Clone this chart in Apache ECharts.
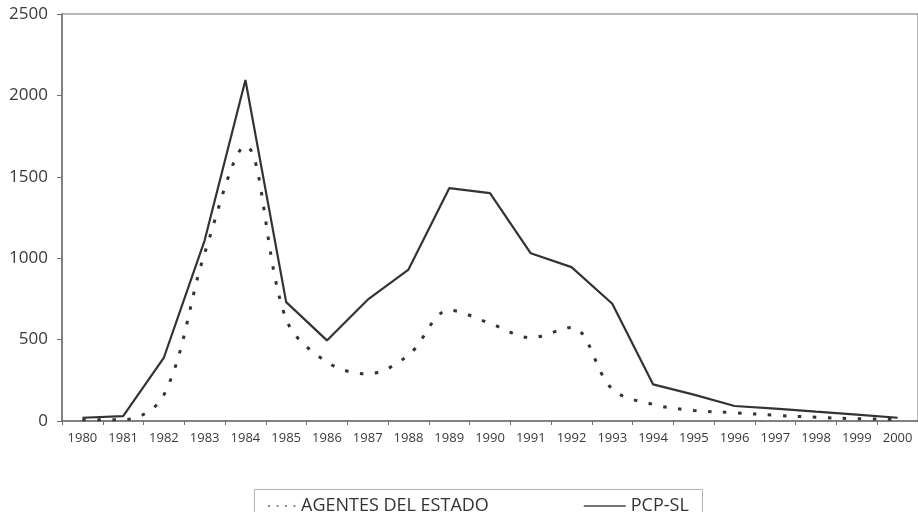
<!DOCTYPE html>
<html>
<head>
<meta charset="utf-8">
<script src="https://cdn.jsdelivr.net/npm/echarts@6/dist/echarts.min.js"></script>
<style>
html,body{margin:0;padding:0;background:#fff;}
#chart{width:918px;height:512px;}
</style>
</head>
<body>
<div id="chart"></div>
<script>
var years = ['1980','1981','1982','1983','1984','1985','1986','1987','1988','1989','1990','1991','1992','1993','1994','1995','1996','1997','1998','1999','2000'];
var agentesDelEstado = [8, 8, 160, 1030, 1690, 625, 362, 290, 405, 680, 600, 512, 575, 196, 102, 65, 51, 35, 23, 14, 10];
var pcpSL = [20, 30, 390, 1110, 2095, 730, 495, 745, 930, 1430, 1400, 1030, 945, 720, 225, 162, 92, 76, 57, 39, 20];
var yTicks = {min: 0, max: 2500, interval: 500};
var seriesNames = ['AGENTES DEL ESTADO', 'PCP-SL'];

var chart = echarts.init(document.getElementById('chart'), null, {renderer: 'canvas'});
var font = '"Open Sans", "Liberation Sans", sans-serif';
chart.setOption({
  animation: false,
  backgroundColor: '#ffffff',
  grid: {
    left: 62, top: 14, right: -7, bottom: 91,
    show: true, borderColor: '#6f6f6f', borderWidth: 1, backgroundColor: 'transparent'
  },
  xAxis: {
    type: 'category',
    data: years,
    boundaryGap: true,
    axisLine: {show: true, lineStyle: {color: '#6f6f6f', width: 1.5}},
    axisTick: {show: true, length: 4, alignWithLabel: false, lineStyle: {color: '#6f6f6f'}},
    axisLabel: {color: '#3a3a3a', fontFamily: font, fontSize: 13, margin: 11, interval: 0},
    splitLine: {show: false}
  },
  yAxis: {
    type: 'value',
    min: yTicks.min, max: yTicks.max, interval: yTicks.interval,
    axisLine: {show: true, lineStyle: {color: '#6f6f6f', width: 1.5}},
    axisTick: {show: true, length: 5, lineStyle: {color: '#6f6f6f'}},
    axisLabel: {color: '#3a3a3a', fontFamily: font, fontSize: 17, margin: 14,
      formatter: function (v) { return String(v); }},
    splitLine: {show: false}
  },
  legend: [
    {
      data: [seriesNames[0]],
      left: 262, top: 491,
      icon: 'inherit',
      itemWidth: 28, itemHeight: 20, itemGap: 0, itemTextGap: 6,
      textStyle: {color: '#333', fontFamily: font, fontSize: 18, lineHeight: 20},
      itemStyle: {opacity: 0},
      lineStyle: {type: [2, 6.5], width: 2, color: '#8a8a8a', cap: 'butt', opacity: 1},
      selectedMode: false
    },
    {
      data: [seriesNames[1]],
      left: 578, top: 491,
      icon: 'inherit',
      itemWidth: 42, itemHeight: 20, itemGap: 0, itemTextGap: 8,
      textStyle: {color: '#333', fontFamily: font, fontSize: 18, lineHeight: 20},
      itemStyle: {opacity: 0},
      lineStyle: {width: 1.5, color: '#444', type: 'solid', opacity: 1},
      selectedMode: false
    }
  ],
  graphic: [
    {
      type: 'rect', left: 252, top: 487, silent: true,
      shape: {width: 448, height: 40},
      style: {fill: 'none', stroke: '#b5b5b5', lineWidth: 1}
    }
  ],
  series: [
    {
      name: seriesNames[0],
      type: 'line',
      data: agentesDelEstado,
      symbol: 'none',
      smooth: 0.35,
      lineStyle: {color: '#333', width: 3, type: [3.5, 11.5], cap: 'butt'},
      itemStyle: {color: '#333'},
      z: 2
    },
    {
      name: seriesNames[1],
      type: 'line',
      data: pcpSL,
      symbol: 'none',
      lineStyle: {color: '#333', width: 2.2},
      itemStyle: {color: '#333'},
      z: 3
    }
  ]
});
</script>
</body>
</html>
